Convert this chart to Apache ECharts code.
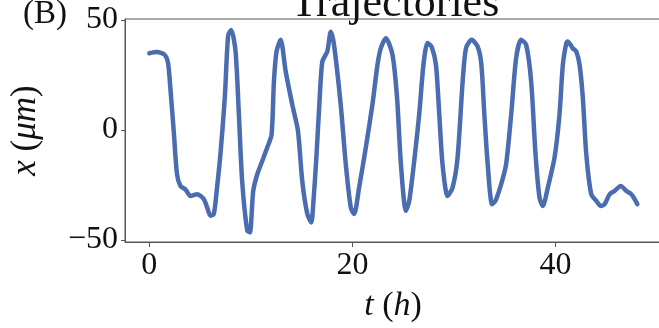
<!DOCTYPE html>
<html>
<head>
<meta charset="utf-8">
<script src="https://cdn.jsdelivr.net/npm/echarts@6/dist/echarts.min.js"></script>
<style>
  html, body { margin: 0; padding: 0; background: #fff; overflow: hidden; }
  /* a bit wider than the window so the right spine falls just off-screen */
  #chart { width: 664px; height: 328px; }
</style>
</head>
<body>
<div id="chart"></div>
<script>
// time in hours
const times = [
  0, 0.75, 1.5, 1.84, 2.07, 2.4, 2.72, 3.06, 3.55, 4.05,
  4.7, 5.36, 5.69, 6.02, 6.35, 6.67, 7.0, 7.43, 7.76, 8.06,
  8.49, 8.82, 9.14, 9.64, 9.9, 10.23, 10.63, 11.12, 11.61, 12.04,
  12.27, 12.53, 12.93, 13.43, 14.08, 14.64, 15.06, 15.56, 15.95, 16.12,
  16.45, 16.78, 17.04, 17.53, 17.87, 18.19, 18.85, 19.35, 19.84, 20.17,
  20.66, 21.32, 21.97, 22.47, 22.8, 23.3, 23.95, 24.4, 24.78, 25.27,
  25.6, 26.09, 26.58, 27.0, 27.4, 27.8, 28.23, 28.56, 28.88, 29.38,
  29.87, 30.36, 30.86, 31.19, 31.75, 32.34, 32.7, 33.0, 33.33, 33.76,
  34.09, 34.65, 35.14, 35.64, 36.13, 36.62, 37.12, 37.61, 38.04, 38.43,
  38.76, 39.25, 39.91, 40.4, 40.73, 41.07, 41.2, 41.7, 42.05, 42.38,
  42.7, 43.04, 43.53, 44.03, 44.45, 44.85, 45.34, 45.83, 46.43, 46.99,
  47.48, 47.8, 48.07
];

// position in micrometres
const positions = [
  34.9, 35.4, 34.2, 30.4, 19, -0.5, -20, -25.4, -27, -30,
  -29.2, -31.4, -35.2, -39, -38.2, -26, -11, 14.6, 43, 45.5,
  35.7, 7, -23.2, -45.8, -46.5, -27.7, -20.1, -14.1, -8, -2,
  22, 35.7, 41, 26.6, 11.5, -0.5, -23.2, -38.2, -42, -35.2,
  -12.6, 14.6, 31.1, 35.7, 44.7, 38.7, 11.5, -15.6, -35.2, -38.2,
  -26.2, -8, 11.5, 29.6, 37.2, 41.7, 34.2, 14.6, -15.6, -36.7,
  -32.2, -14.1, 7, 29.6, 39.5, 37.9, 29.6, 7, -15.6, -30,
  -26.2, -12.6, 22, 37.2, 41, 37.9, 30, 7, -15.6, -33.7,
  -32.2, -24.7, -15.6, 7, 32.7, 41, 38.7, 22, -11, -30.7,
  -34.5, -26.2, -12.6, 7, 29.6, 39.5, 40.2, 37.2, 35.7, 29.6,
  14.6, -11, -29.2, -32.2, -34.5, -33.7, -29.2, -27.7, -25.4, -27.7,
  -29.2, -31.4, -33.7
];

const xTicks = [0, 20, 40];
const yTicks = [-50, 0, 50];

const serif = '"Liberation Serif", "DejaVu Serif", serif';
const axisGray = '#555';

const fmt = v => (v < 0 ? '\u2212' + Math.abs(v) : String(v));

const chart = echarts.init(document.getElementById('chart'), null, {renderer: 'canvas'});

chart.setOption({
  animation: false,
  backgroundColor: '#fff',
  grid: {
    left: 125,
    top: 19,
    width: 536,
    height: 224,
    show: true,
    borderColor: axisGray,
    borderWidth: 1
  },
  graphic: [
    {
      type: 'text',
      x: 23,
      y: 31,
      style: {
        text: '(B)',
        font: '33px ' + serif,
        fill: '#111',
        textVerticalAlign: 'bottom'
      }
    },
    {
      type: 'text',
      x: 395,
      y: 26,
      style: {
        text: 'Trajectories',
        font: '44px ' + serif,
        fill: '#111',
        textAlign: 'center',
        textVerticalAlign: 'bottom'
      }
    }
  ],
  xAxis: {
    type: 'value',
    min: -2.4,
    max: 50.4,
    name: '{i|t} ({i|h})',
    nameLocation: 'middle',
    nameGap: 47,
    nameTextStyle: {
      fontFamily: serif,
      fontSize: 34,
      color: '#111',
      rich: {i: {fontFamily: serif, fontSize: 34, fontStyle: 'italic', color: '#111'}}
    },
    splitLine: {show: false},
    axisLine: {show: true, onZero: false, lineStyle: {color: axisGray, width: 1}},
    axisTick: {show: true, length: 5, customValues: xTicks, lineStyle: {color: axisGray}},
    axisLabel: {
      customValues: xTicks,
      formatter: fmt,
      fontFamily: serif,
      fontSize: 32,
      color: '#111',
      margin: 8
    }
  },
  yAxis: {
    type: 'value',
    min: -50.9,
    max: 50.45,
    name: '{i|x} ({i|\u03bcm})',
    nameLocation: 'middle',
    nameGap: 82,
    nameTextStyle: {
      fontFamily: serif,
      fontSize: 35,
      color: '#111',
      rich: {i: {fontFamily: serif, fontSize: 35, fontStyle: 'italic', color: '#111'}}
    },
    splitLine: {show: false},
    axisLine: {show: true, onZero: false, lineStyle: {color: axisGray, width: 1}},
    axisTick: {show: true, length: 4, customValues: yTicks, lineStyle: {color: axisGray}},
    axisLabel: {
      customValues: yTicks,
      formatter: fmt,
      fontFamily: serif,
      fontSize: 32,
      color: '#111',
      margin: 7
    }
  },
  series: [{
    type: 'line',
    data: times.map((t, i) => [t, positions[i]]),
    showSymbol: false,
    smooth: 0.25,
    lineStyle: {color: '#4a6db1', width: 4.5, join: 'round', cap: 'round'}
  }]
});
</script>
</body>
</html>
